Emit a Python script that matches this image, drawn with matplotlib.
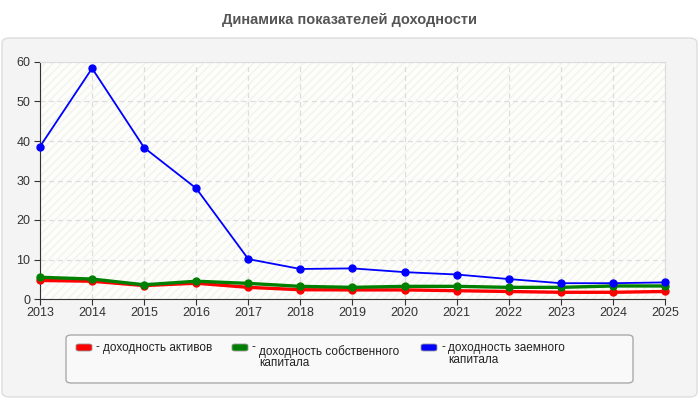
import matplotlib

matplotlib.use("Agg")
import matplotlib.pyplot as plt
from matplotlib.patches import FancyBboxPatch, Rectangle

plt.rcParams["font.family"] = ["Liberation Sans", "DejaVu Sans"]

# data
years = [2013, 2014, 2015, 2016, 2017, 2018, 2019, 2020, 2021, 2022, 2023, 2024, 2025]
assets = [4.7, 4.5, 3.4, 4.0, 2.95, 2.35, 2.3, 2.3, 2.1, 1.9, 1.7, 1.7, 1.9]
equity = [5.5, 5.05, 3.6, 4.5, 3.95, 3.2, 2.95, 3.2, 3.2, 2.95, 2.95, 3.3, 3.3]
borrowed = [38.6, 58.4, 38.3, 28.0, 10.1, 7.6, 7.75, 6.8, 6.2, 5.05, 4.0, 4.0, 4.2]

labels = [
    "доходность активов",
    "доходность собственного\nкапитала",
    "доходность заемного\nкапитала",
]
colors = ["#ff0000", "#008000", "#0000ff"]
title = "Динамика показателей доходности"

W, H = 700, 400
fig = plt.figure(figsize=(W / 100, H / 100), dpi=100)
fig.patch.set_facecolor("white")


def fx(px):
    return px / W


def fy(py):
    return 1 - py / H


# outer panel, kept behind the axes
panel = FancyBboxPatch(
    (fx(2), fy(397)), fx(695), fy(38) - fy(397),
    boxstyle="round,pad=0,rounding_size=0.012",
    transform=fig.transFigure, facecolor="#f4f4f4", edgecolor="#dddddd", lw=1,
    zorder=-5,
)
fig.patches.append(panel)

fig.text(0.5, fy(20), title, ha="center", va="center", fontsize=10.5,
         fontweight="bold", color="#555555")

# plot area
ax = fig.add_axes([fx(40), fy(299), fx(665) - fx(40), fy(62) - fy(299)])
ax.set_zorder(2)
ax.set_facecolor("#fdfdf9")
ax.add_patch(Rectangle((0, 0), 1, 1, transform=ax.transAxes, facecolor="none",
                       edgecolor="#f2f2ef", hatch="////", lw=0, zorder=0))
ax.set_xlim(years[0], years[-1])
ax.set_ylim(0, 60)
ax.set_xticks(years)
ax.set_yticks(range(0, 61, 10))
ax.grid(True, color="#dddddd", ls=(0, (4, 3)), lw=0.9)
ax.set_axisbelow(True)
for side in ("top", "right"):
    ax.spines[side].set_color("#dddddd")
for side in ("left", "bottom"):
    ax.spines[side].set_color("#333333")
ax.tick_params(labelsize=9, colors="#333333", length=4, pad=2)
ax.tick_params(axis="y", pad=3)

series = [assets, equity, borrowed]
widths = [2.4, 2.4, 1.3]
for vals, col, lw in zip(series, colors, widths):
    ax.plot(years, vals, color=col, lw=lw, marker="o", markersize=5,
            clip_on=False, zorder=3)

# legend box
lbox = FancyBboxPatch(
    (fx(66), fy(383)), fx(633) - fx(66), fy(335) - fy(383),
    boxstyle="round,pad=0,rounding_size=0.008",
    transform=fig.transFigure, facecolor="#f9f9f9", edgecolor="#aaaaaa", lw=1,
)
fig.patches.append(lbox)

entry_x = [76, 232, 421]
text_top = [342, 345, 342]
for x0, ty, lab, col in zip(entry_x, text_top, labels, colors):
    sw = FancyBboxPatch(
        (fx(x0), fy(351)), fx(16), fy(344) - fy(351),
        boxstyle="round,pad=0,rounding_size=0.004",
        transform=fig.transFigure, facecolor=col, edgecolor="#999999", lw=0.6,
    )
    fig.patches.append(sw)
    fig.text(fx(x0 + 20), fy(347), "-", ha="left", va="center", fontsize=8.5,
             color="#222222")
    fig.text(fx(x0 + 27), fy(ty), lab, ha="left", va="top", fontsize=8.5,
             color="#222222", linespacing=0.95)

fig.savefig("out.png", dpi=100)
